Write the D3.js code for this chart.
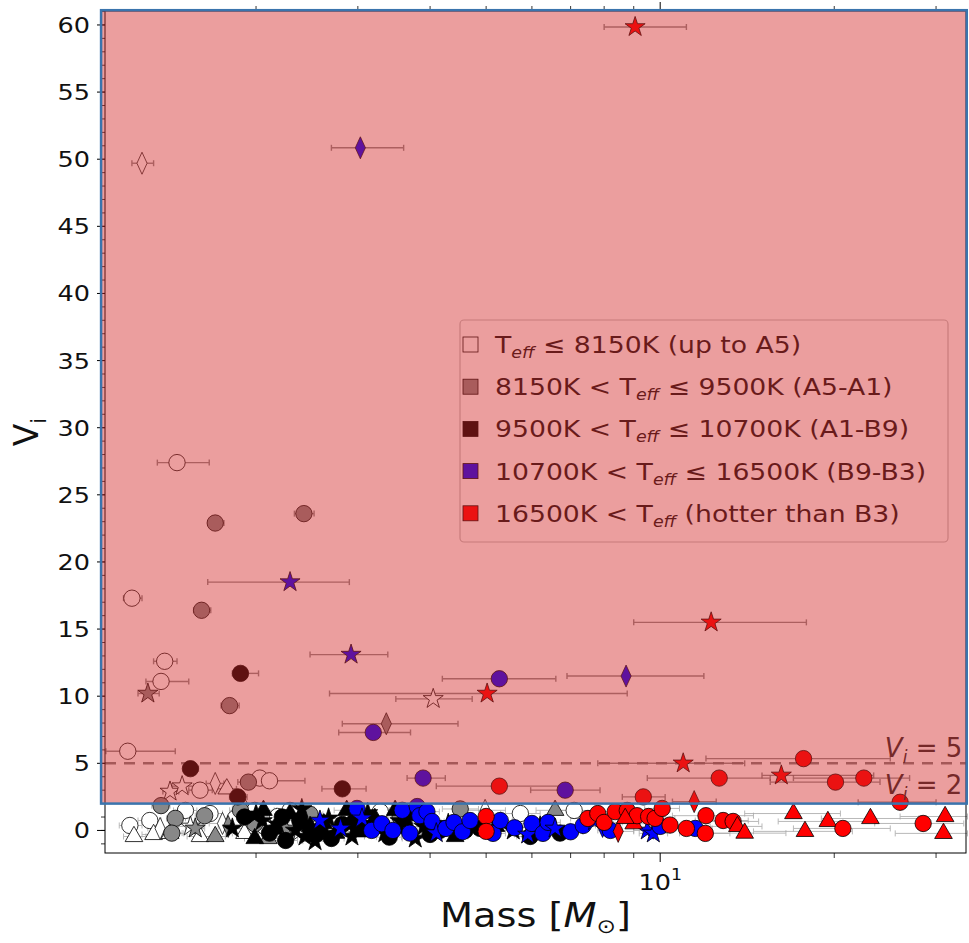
<!DOCTYPE html>
<html>
<head>
<meta charset="utf-8">
<script src="https://cdn.jsdelivr.net/npm/d3@7"></script>
<style>
body { margin: 0; background: #fff; }
text { font-family: "DejaVu Sans", sans-serif; }
</style>
</head>
<body>
<div id="chart"></div>
<script>
// rows: [mass, Vi, massLow, massHigh, marker]
var whitePts = [
    [1.27, 49.7, 1.22, 1.33, "d"], [1.46, 27.4, 1.35, 1.66, "o"], [1.22, 17.3, 1.18, 1.27, "o"],
    [1.39, 12.6, 1.33, 1.46, "o"], [1.37, 11.1, 1.29, 1.53, "o"], [1.20, 5.9, 1.10, 1.45, "o"],
    [4.05, 9.8, 3.49, 4.73, "*"], [1.42, 2.9, 1.38, 1.47, "*"], [1.49, 3.3, 1.43, 1.56, "*"],
    [1.60, 3.0, 1.53, 1.68, "o"], [1.70, 3.5, 1.64, 1.76, "d"], [1.78, 3.1, 1.71, 1.85, "^"],
    [2.03, 3.9, 1.95, 2.12, "o"], [2.11, 3.7, 2.00, 2.43, "o"],
    [1.21, 0.37, 1.16, 1.27, "o"], [1.23, -0.45, 1.18, 1.29, "^"], [1.31, 0.74, 1.25, 1.37, "o"],
    [1.33, -0.3, 1.27, 1.40, "^"], [1.365, 0.15, 1.30, 1.43, "d"], [1.42, -0.22, 1.35, 1.50, "^"],
    [1.51, 1.49, 1.44, 1.58, "o"], [1.54, 0.3, 1.47, 1.62, "*"], [1.60, -0.45, 1.52, 1.68, "^"],
    [1.665, 1.26, 1.58, 1.75, "o"], [1.75, 0.52, 1.66, 1.84, "d"], [1.84, 0.89, 1.75, 1.94, "o"],
    [1.91, 1.64, 1.82, 2.00, "^"], [1.91, -0.22, 1.82, 2.00, "^"], [1.99, 1.49, 1.90, 2.09, "o"],
    [2.07, 0.3, 1.97, 2.18, "o"], [2.18, 1.04, 2.07, 2.30, "o"], [2.29, 1.49, 2.17, 2.42, "o"],
    [2.38, -0.07, 2.26, 2.51, "*"], [3.28, 1.4, 3.10, 3.50, "o"], [4.98, 1.5, 4.60, 5.40, "d"],
    [5.73, 1.26, 5.30, 6.20, "o"], [7.10, 1.49, 6.60, 7.70, "o"]
];
var grayPts = [
    [1.70, 22.9, 1.65, 1.76, "o"], [2.42, 23.6, 2.33, 2.52, "o"], [1.61, 16.4, 1.56, 1.67, "o"],
    [1.30, 10.2, 1.25, 1.36, "*"], [1.80, 9.3, 1.74, 1.87, "o"], [3.36, 7.95, 2.82, 4.47, "d"],
    [1.94, 3.6, 1.86, 2.02, "o"], [1.37, 1.85, 1.32, 1.42, "o"],
    [1.45, 0.9, 1.40, 1.51, "o"], [1.43, -0.2, 1.38, 1.49, "o"], [1.57, 0.15, 1.51, 1.63, "*"],
    [1.63, 1.1, 1.57, 1.70, "o"], [1.70, -0.45, 1.63, 1.77, "^"], [1.79, 0.3, 1.72, 1.87, "d"],
    [1.88, 1.5, 1.80, 1.96, "o"], [1.99, 0.5, 1.91, 2.08, "o"], [2.10, -0.6, 2.01, 2.20, "^"],
    [2.25, 0.15, 2.15, 2.36, "*"], [2.48, 1.2, 2.36, 2.61, "o"], [3.55, 1.0, 3.35, 3.76, "o"],
    [4.51, 1.6, 4.20, 4.85, "o"], [6.58, 1.5, 6.10, 7.10, "^"]
];
var blackPts = [
    [1.88, 11.7, 1.82, 2.02, "o"], [1.54, 4.6, 1.50, 1.59, "o"], [2.82, 3.1, 2.60, 3.10, "o"],
    [1.86, 2.5, 1.80, 1.93, "o"],
    [1.82, 0.15, 1.75, 1.90, "*"], [1.91, 1.0, 1.83, 1.99, "o"], [1.99, -0.6, 1.91, 2.08, "^"],
    [2.00, 1.2, 1.92, 2.09, "*"], [2.05, 0.7, 1.96, 2.14, "*"], [2.06, 1.5, 1.97, 2.15, "^"],
    [2.11, -0.2, 2.02, 2.21, "o"], [2.15, 0.1, 2.05, 2.25, "^"], [2.18, 0.45, 2.08, 2.28, "*"],
    [2.22, 1.0, 2.12, 2.33, "o"], [2.25, -0.75, 2.15, 2.36, "o"], [2.29, 1.25, 2.18, 2.40, "^"],
    [2.34, 0.0, 2.23, 2.45, "*"], [2.38, 0.75, 2.27, 2.50, "o"], [2.40, 1.6, 2.29, 2.52, "*"],
    [2.43, -0.45, 2.31, 2.55, "*"], [2.48, 0.3, 2.36, 2.60, "^"], [2.50, -0.2, 2.38, 2.63, "o"],
    [2.53, -0.8, 2.41, 2.66, "*"], [2.58, 0.0, 2.45, 2.71, "o"], [2.62, 0.5, 2.49, 2.75, "^"],
    [2.67, 0.9, 2.54, 2.81, "*"], [2.70, -0.6, 2.56, 2.84, "o"], [2.75, -0.2, 2.61, 2.89, "^"],
    [2.82, 0.45, 2.68, 2.96, "o"], [2.87, 1.5, 2.73, 3.02, "^"], [2.93, -0.45, 2.79, 3.08, "*"],
    [2.95, 0.6, 2.80, 3.10, "o"], [3.00, -0.1, 2.85, 3.15, "^"], [3.09, 0.15, 2.93, 3.25, "o"],
    [3.12, 1.3, 2.96, 3.28, "*"], [3.21, 0.9, 3.05, 3.38, "^"], [3.30, 0.4, 3.13, 3.47, "o"],
    [3.34, -0.2, 3.17, 3.52, "*"], [3.40, -0.5, 3.23, 3.57, "o"], [3.48, 1.5, 3.30, 3.66, "^"],
    [3.55, 0.7, 3.37, 3.73, "*"], [3.62, 0.3, 3.44, 3.81, "o"], [3.70, 1.1, 3.51, 3.89, "^"],
    [3.77, -0.6, 3.58, 3.97, "*"], [3.90, 0.3, 3.70, 4.10, "*"], [4.00, -0.3, 3.80, 4.20, "o"],
    [4.16, 0.0, 3.95, 4.38, "o"], [4.30, 0.5, 4.08, 4.52, "*"], [4.42, -0.45, 4.19, 4.65, "^"],
    [4.60, 0.0, 4.37, 4.83, "o"], [4.88, 0.15, 4.63, 5.14, "o"], [5.20, 0.3, 4.94, 5.46, "^"],
    [5.57, 0.0, 5.28, 5.87, "*"], [5.96, -0.45, 5.65, 6.28, "o"], [6.20, 0.3, 5.88, 6.53, "*"],
    [6.71, -0.2, 6.36, 7.07, "o"]
];
var bluePts = [
    [3.03, 50.85, 2.70, 3.60, "d"], [2.29, 18.5, 1.65, 2.90, "*"], [2.92, 13.1, 2.48, 3.38, "*"],
    [5.27, 11.3, 4.20, 6.60, "o"], [8.73, 11.5, 6.90, 11.9, "d"], [3.19, 7.3, 2.78, 3.70, "o"],
    [3.89, 3.9, 3.65, 4.25, "o"], [6.85, 3.0, 5.97, 7.87, "o"],
    [2.58, 0.74, 2.45, 2.71, "*"], [2.80, 0.15, 2.66, 2.94, "*"], [2.99, 1.64, 2.84, 3.14, "o"],
    [3.05, 0.9, 2.90, 3.20, "*"], [3.17, 0.0, 3.01, 3.33, "o"], [3.30, 0.5, 3.13, 3.47, "o"],
    [3.45, 0.0, 3.28, 3.62, "o"], [3.58, 1.5, 3.40, 3.76, "o"], [3.69, -0.2, 3.50, 3.88, "o"],
    [3.80, 1.78, 3.61, 3.99, "o"], [3.84, 1.1, 3.65, 4.03, "o"], [3.95, 1.4, 3.75, 4.15, "o"],
    [4.03, 0.67, 3.83, 4.23, "o"], [4.10, -0.2, 3.90, 4.30, "*"], [4.26, 0.15, 4.05, 4.47, "o"],
    [4.40, 0.6, 4.18, 4.62, "o"], [4.55, -0.1, 4.32, 4.78, "o"], [4.69, 0.74, 4.46, 4.92, "o"],
    [5.14, -0.22, 4.88, 5.40, "o"], [5.29, 0.74, 5.03, 5.55, "o"], [5.60, 0.2, 5.32, 5.88, "o"],
    [5.90, -0.3, 5.60, 6.20, "*"], [6.00, 0.52, 5.70, 6.30, "o"], [6.27, -0.22, 5.96, 6.58, "o"],
    [6.40, 0.6, 6.08, 6.72, "o"], [6.58, 0.15, 6.25, 6.91, "*"], [7.00, -0.1, 6.65, 7.35, "o"],
    [7.36, 0.37, 6.99, 7.73, "o"], [7.70, 0.7, 7.30, 8.10, "*"], [7.95, 0.3, 7.55, 8.35, "d"],
    [8.20, 0.0, 7.80, 8.60, "o"], [9.50, 0.0, 9.00, 10.0, "*"], [9.73, -0.22, 9.20, 10.3, "*"],
    [10.0, 0.3, 9.50, 10.5, "o"], [11.5, 0.15, 10.9, 12.1, "o"]
];
var redPts = [
    [9.05, 59.85, 8.00, 11.1, "*"], [12.25, 15.5, 9.00, 17.9, "*"], [5.02, 10.2, 2.68, 8.77, "*"],
    [10.96, 5.0, 7.80, 14.0, "*"], [17.7, 5.35, 12.0, 25.0, "o"], [5.27, 3.3, 4.10, 6.80, "o"],
    [12.65, 3.9, 9.50, 15.5, "o"], [16.2, 4.1, 15.0, 23.4, "*"], [20.1, 3.6, 15.5, 24.0, "o"],
    [22.5, 3.9, 17.0, 27.0, "o"], [26.0, 2.1, 22.0, 30.0, "o"], [9.35, 2.5, 8.60, 10.2, "o"],
    [11.45, 2.15, 10.5, 12.5, "d"],
    [5.00, 1.04, 4.70, 5.30, "o"], [5.00, -0.07, 4.70, 5.30, "o"], [7.50, 0.89, 7.00, 8.00, "o"],
    [7.80, 1.26, 7.30, 8.30, "o"], [8.00, 0.6, 7.40, 8.60, "o"], [8.36, 1.4, 7.80, 8.90, "o"],
    [8.77, 1.49, 8.20, 9.40, "o"], [9.00, 0.5, 8.30, 9.70, "^"], [9.12, 1.1, 8.50, 9.80, "o"],
    [9.55, 1.04, 8.90, 10.2, "o"], [9.80, 0.9, 9.00, 10.6, "o"], [10.08, 1.64, 9.40, 10.8, "o"],
    [10.4, 0.4, 9.60, 11.3, "o"], [8.46, -0.07, 7.90, 9.00, "d"], [8.70, 0.9, 8.10, 9.30, "^"],
    [11.1, 0.15, 10.0, 12.3, "o"], [11.97, -0.22, 10.8, 13.2, "o"], [12.0, 1.1, 10.5, 14.5, "o"],
    [12.85, 0.74, 11.5, 14.2, "o"], [13.37, 0.67, 12.0, 14.8, "o"], [13.6, 0.3, 12.2, 15.0, "^"],
    [14.0, -0.2, 12.0, 16.5, "^"], [17.0, 1.26, 14.0, 20.5, "^"], [17.8, -0.07, 14.5, 21.5, "^"],
    [19.5, 0.67, 16.0, 23.5, "^"], [20.7, 0.15, 17.0, 25.0, "o"], [23.1, 0.89, 19.0, 28.0, "^"],
    [28.5, 0.52, 23.5, 33.5, "o"], [31.1, 1.04, 26.0, 34.0, "^"], [30.9, -0.22, 25.5, 34.0, "^"]
];

var groupFills = ["#ffffff", "#888888", "#000000", "#0000ff", "#ff0000"];
var groupPts = [whitePts, grayPts, blackPts, bluePts, redPts];
var legendLabels = [
    "T_eff ≤ 8150K (up to A5)",
    "8150K < T_eff ≤ 9500K (A5-A1)",
    "9500K < T_eff ≤ 10700K (A1-B9)",
    "10700K < T_eff ≤ 16500K (B9-B3)",
    "16500K < T_eff (hotter than B3)"
];
var yTicks = d3.range(0, 61, 5);
var yMinor = d3.range(-1, 62, 1);
var xMajor = [10];
var xMinor = [2, 3, 4, 5, 6, 7, 8, 9, 20, 30];
var refLines = [5];
var refLabels = [[5, 5.45, "5"], [2, 2.7, "2"]];
var overlayMass = [1.079, 33.9];
var overlayV = [2, 61.1];

var svg = d3.select("#chart").append("svg")
    .attr("width", 969)
    .attr("height", 943);

var pL = 105, pR = 966, pT = 11, pB = 853;
var x = d3.scaleLog().domain([1.096, 33.8]).range([pL, pR]);
var y = d3.scaleLinear().domain([-1.68, 61.04]).range([pB, pT]);
var stretch = 1.16;   // the source figure is wider than its fonts

function symbolFor(m) {
    if (m == "*") return d3.symbol().type(d3.symbolStar).size(125)();
    if (m == "d") return d3.symbol().type(d3.symbolDiamond).size(140)();
    if (m == "^") return d3.symbol().type(d3.symbolTriangle).size(135)();
    return d3.symbol().type(d3.symbolCircle).size(210)();
}

// y axis ticks
var ya = svg.append("g");
ya.selectAll(".ymin").data(yMinor).enter().append("line")
    .attr("x1", pL - 4).attr("x2", pL)
    .attr("y1", function(d) { return y(d); }).attr("y2", function(d) { return y(d); })
    .style("stroke", "#000").style("stroke-width", 0.8);
ya.selectAll(".ymaj").data(yTicks).enter().append("line")
    .attr("x1", pL - 8).attr("x2", pL)
    .attr("y1", function(d) { return y(d); }).attr("y2", function(d) { return y(d); })
    .style("stroke", "#000").style("stroke-width", 1);
ya.selectAll(".ylab").data(yTicks).enter().append("text")
    .attr("transform", function(d) { return "translate(" + (pL - 15) + "," + y(d) + ") scale(" + stretch + ",1)"; })
    .attr("dy", "0.36em")
    .attr("text-anchor", "end")
    .style("font-size", "22px")
    .style("fill", "#111")
    .text(function(d) { return d; });

// x axis ticks, bottom and top
[pB, pT].forEach(function(yy) {
    var dir = yy == pB ? 1 : -1;
    svg.append("g").selectAll("line").data(xMinor).enter().append("line")
        .attr("x1", function(d) { return x(d); }).attr("x2", function(d) { return x(d); })
        .attr("y1", yy).attr("y2", yy + dir * 5)
        .style("stroke", "#000").style("stroke-width", 0.8);
    svg.append("g").selectAll("line").data(xMajor).enter().append("line")
        .attr("x1", function(d) { return x(d); }).attr("x2", function(d) { return x(d); })
        .attr("y1", yy).attr("y2", yy + dir * 9)
        .style("stroke", "#000").style("stroke-width", 1);
});
var xl = svg.append("g").selectAll("text").data(xMajor).enter().append("text")
    .attr("transform", function(d) { return "translate(" + x(d) + "," + (pB + 37) + ") scale(" + stretch + ",1)"; })
    .attr("text-anchor", "middle")
    .style("font-size", "22px")
    .style("fill", "#111");
xl.append("tspan").text("10");
xl.append("tspan").attr("dy", -10).style("font-size", "15px").text("1");

// axis titles
var xt = svg.append("text")
    .attr("transform", "translate(" + (pL + pR) / 2 + ",927) scale(" + stretch + ",1)")
    .attr("text-anchor", "middle")
    .style("font-size", "33px")
    .style("fill", "#111");
xt.append("tspan").text("Mass [");
xt.append("tspan").style("font-style", "italic").text("M");
xt.append("tspan").attr("dy", 6).style("font-size", "20px").text("⊙");
xt.append("tspan").attr("dy", -6).text("]");

var yt = svg.append("text")
    .attr("transform", "translate(38," + (pT + pB) / 2 + ")rotate(-90)")
    .attr("text-anchor", "middle")
    .style("font-size", "33px")
    .style("fill", "#111");
yt.append("tspan").text("V");
yt.append("tspan").attr("dy", 8).style("font-size", "21px").text("i");

// plot area
var g = svg.append("g");

g.selectAll(".ref").data(refLines).enter().append("line")
    .attr("x1", pL).attr("x2", pR)
    .attr("y1", function(d) { return y(d); }).attr("y2", function(d) { return y(d); })
    .style("stroke", "#808080")
    .style("stroke-width", 2.5)
    .style("stroke-dasharray", "11,8");

// error bars
groupPts.forEach(function(pts) {
    var eb = g.append("g").selectAll("g").data(pts).enter().append("g")
        .style("stroke", function(d) { return d[1] >= 2 ? "#707070" : "#a8a8a8"; })
        .style("stroke-width", function(d) { return d[1] >= 2 ? 1.4 : 1; })
        .style("opacity", 0.8);
    eb.append("line")
        .attr("x1", function(d) { return x(d[2]); }).attr("x2", function(d) { return x(d[3]); })
        .attr("y1", function(d) { return y(d[1]); }).attr("y2", function(d) { return y(d[1]); });
    eb.append("line")
        .attr("x1", function(d) { return x(d[2]); }).attr("x2", function(d) { return x(d[2]); })
        .attr("y1", function(d) { return y(d[1]) - 3; }).attr("y2", function(d) { return y(d[1]) + 3; });
    eb.append("line")
        .attr("x1", function(d) { return x(d[3]); }).attr("x2", function(d) { return x(d[3]); })
        .attr("y1", function(d) { return y(d[1]) - 3; }).attr("y2", function(d) { return y(d[1]) + 3; });
});

// markers
groupPts.forEach(function(pts, i) {
    g.append("g").selectAll("path").data(pts).enter().append("path")
        .attr("d", function(d) { return symbolFor(d[4]); })
        .attr("transform", function(d) {
            var s = d[4] == "d" ? " scale(0.8,1)" : "";
            return "translate(" + x(d[0]) + "," + y(d[1]) + ")" + s;
        })
        .style("fill", groupFills[i])
        .style("stroke", "#000")
        .style("stroke-width", 0.8);
});

// reference labels
refLabels.forEach(function(r) {
    var t = g.append("text")
        .attr("x", x(33.3))
        .attr("y", y(r[1]))
        .attr("text-anchor", "end")
        .style("font-size", "26px")
        .style("fill", "#2a2a2a");
    t.append("tspan").style("font-style", "italic").text("V");
    t.append("tspan").attr("dy", 6).style("font-size", "17px").style("font-style", "italic").text("i");
    t.append("tspan").attr("dy", -6).text(" = " + r[2]);
});

// legend
var lg = g.append("g");
lg.append("rect")
    .attr("x", 460).attr("y", 320).attr("width", 488).attr("height", 222)
    .attr("rx", 4)
    .style("fill", "#fff").style("fill-opacity", 0.8)
    .style("stroke", "#c0c0c0").style("stroke-width", 1.2);
legendLabels.forEach(function(lab, i) {
    var cy = 345 + i * 42.2;
    lg.append("rect")
        .attr("x", 463).attr("y", cy - 8).attr("width", 15).attr("height", 15)
        .style("fill", groupFills[i])
        .style("stroke", "#000").style("stroke-width", 0.8);
    var t = lg.append("text")
        .attr("transform", "translate(495," + (cy + 8) + ") scale(" + stretch + ",1)")
        .style("font-size", "23px")
        .style("fill", "#111");
    var parts = lab.split("T_eff");
    t.append("tspan").text(parts[0] + "T");
    t.append("tspan").attr("dy", 5).style("font-size", "15px").style("font-style", "italic").text("eff");
    t.append("tspan").attr("dy", -5).text(parts[1]);
});

// axes spines
g.append("rect")
    .attr("x", pL).attr("y", pT).attr("width", pR - pL).attr("height", pB - pT)
    .style("fill", "none").style("stroke", "#000").style("stroke-width", 1);

// translucent overlay above V = 2
svg.append("rect")
    .attr("x", x(overlayMass[0]))
    .attr("y", y(overlayV[1]))
    .attr("width", x(overlayMass[1]) - x(overlayMass[0]))
    .attr("height", y(overlayV[0]) - y(overlayV[1]))
    .style("fill", "rgb(210,40,40)")
    .style("fill-opacity", 0.45)
    .style("stroke", "#3a74ad")
    .style("stroke-width", 2.5);
</script>
</body>
</html>
